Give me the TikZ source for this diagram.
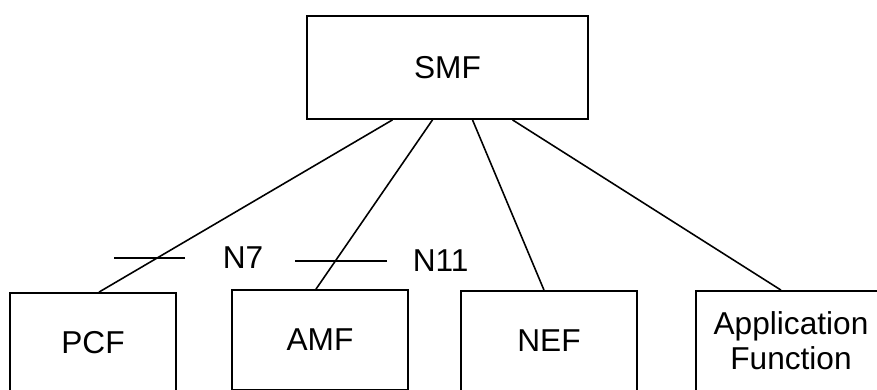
\documentclass[tikz,border=0pt]{standalone}
\usepackage{fontspec}
\setmainfont{Liberation Sans}
\usetikzlibrary{calc}
\tikzset{
  nfbox/.style={draw,line width=1pt,minimum height=2cm,align=center,
    font=\fontsize{18}{20}\selectfont},
  reflabel/.style={anchor=west,inner sep=0pt,font=\fontsize{18}{20}\selectfont},
}
\begin{document}
\begin{tikzpicture}[line width=0.9pt]
\clip (0,0) rectangle (17.54,7.8);
\node[nfbox,minimum width=5.62cm,minimum height=2.06cm] (smf) at (8.95,6.45) {SMF};

\node[nfbox,minimum width=3.32cm] (pcf) at (1.86,0.94) {PCF};
\node[nfbox,minimum width=3.52cm] (amf) at (6.4,1.0) {AMF};
\node[nfbox,minimum width=3.52cm] (nef) at (10.98,0.98) {NEF};
\node[nfbox,minimum width=3.8cm] (af) at (15.82,0.98) {Application\\Function};

\draw ([xshift=-1.1cm]smf.south) -- ([xshift=0.12cm]pcf.north);
\draw ([xshift=-0.3cm]smf.south) -- ([xshift=-0.08cm]amf.north);
\draw ([xshift=0.5cm]smf.south) -- ([xshift=-0.1cm]nef.north);
\draw ([xshift=1.3cm]smf.south) -- ([xshift=-0.2cm]af.north);

% reference points
\node[reflabel] (n7) at (4.44,2.64) {N7};
\node[reflabel] (n11) at (8.24,2.58) {N11};
\draw ([xshift=-0.74cm]n7.west) -- ++(-1.42,0);
\draw ([xshift=-0.5cm]n11.west) -- ++(-1.84,0);
\end{tikzpicture}
\end{document}
